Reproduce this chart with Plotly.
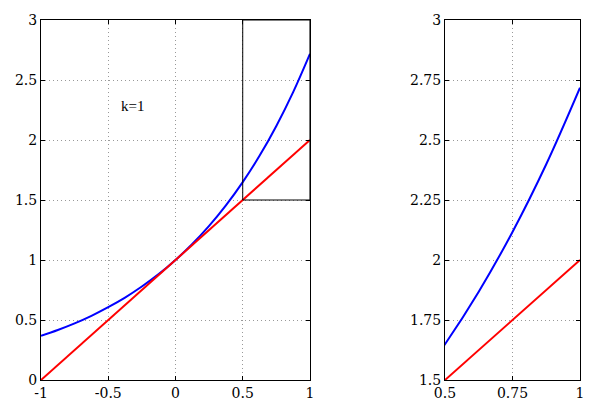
import plotly.graph_objs as go

# values
curve_x = [-1, -0.875, -0.75, -0.625, -0.5, -0.375, -0.25, -0.125, 0,
           0.125, 0.25, 0.375, 0.5, 0.625, 0.75, 0.875, 1]
curve_y = [0.368, 0.417, 0.472, 0.535, 0.607, 0.687, 0.779, 0.882, 1.0,
           1.133, 1.284, 1.455, 1.649, 1.868, 2.117, 2.399, 2.718]
line_x = [-1, 1]
line_y = [0, 2]

left_xticks = [-1, -0.5, 0, 0.5, 1]
left_xlabels = ['-1', '-0.5', '0', '0.5', '1']
left_yticks = [0, 0.5, 1, 1.5, 2, 2.5, 3]
right_xticks = [0.5, 0.75, 1]
right_yticks = [1.5, 1.75, 2, 2.25, 2.5, 2.75, 3]

font = dict(family='DejaVu Serif', size=14, color='black')

fig = go.Figure()

for xa, ya in (('x', 'y'), ('x2', 'y2')):
    fig.add_trace(go.Scatter(
        x=curve_x, y=curve_y, mode='lines', line_shape='spline',
        line=dict(color='#0000ff', width=2), xaxis=xa, yaxis=ya,
        showlegend=False
    ))
    fig.add_trace(go.Scatter(
        x=line_x, y=line_y, mode='lines',
        line=dict(color='#ff0000', width=2), xaxis=xa, yaxis=ya,
        showlegend=False
    ))

# zoom box
fig.add_shape(type='rect', xref='x', yref='y', x0=0.5, x1=1, y0=1.5, y1=3,
              line=dict(color='black', width=1))

fig.add_annotation(x=-0.32, y=2.28, xref='x', yref='y', text='k=1',
                   showarrow=False, font=dict(family='Liberation Serif', size=15, color='black'))

axis_style = dict(
    showline=True, linecolor='black', linewidth=1, mirror='ticks',
    ticks='inside', ticklen=4, tickcolor='black',
    showgrid=True, gridcolor='#999999', griddash='1px,3px', gridwidth=1,
    zeroline=False, tickfont=font, automargin=False,
)

# page body has an 8px margin, so the figure is shrunk by that much
fig.update_layout(
    width=591, height=411,
    margin=dict(l=33, r=19, t=12, b=39),
    plot_bgcolor='white', paper_bgcolor='white',
    xaxis=dict(domain=[0, 0.499], range=[-1, 1], tickvals=left_xticks,
               ticktext=left_xlabels, anchor='y', **axis_style),
    yaxis=dict(domain=[0, 1], range=[0, 3], tickvals=left_yticks, anchor='x', **axis_style),
    xaxis2=dict(domain=[0.7495, 1], range=[0.5, 1], tickvals=right_xticks, anchor='y2', **axis_style),
    yaxis2=dict(domain=[0, 1], range=[1.5, 3], tickvals=right_yticks, anchor='x2', **axis_style),
)

fig.write_html("out.html")
